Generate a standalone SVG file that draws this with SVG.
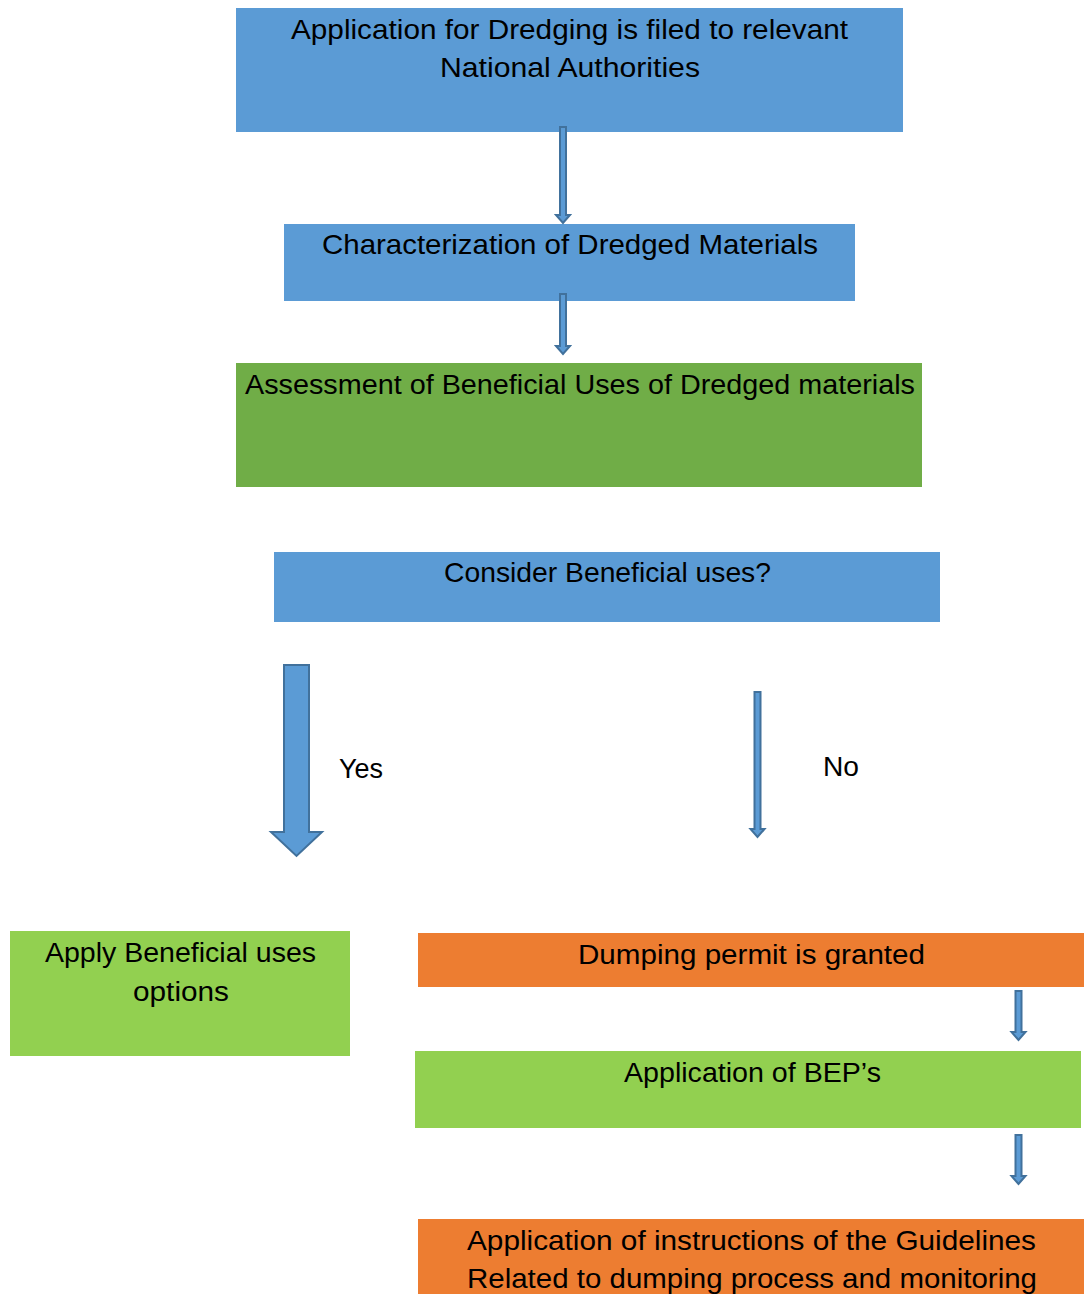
<svg xmlns="http://www.w3.org/2000/svg" width="1092" height="1294" viewBox="0 0 1092 1294">
<style>
.blue{fill:#5B9BD5}
.green{fill:#70AD47}
.lgreen{fill:#92D050}
.orange{fill:#ED7D31}
.t{font-family:"Liberation Sans",Arial,sans-serif;font-size:27.5px;fill:#000;text-anchor:middle}
.arr{fill:#5B9BD5;stroke:#41719C;stroke-width:2;stroke-linejoin:miter}
</style>
<rect width="1092" height="1294" fill="#fff"/>
<g id="n1"><rect class="blue" x="236" y="8" width="667" height="124"/>
<text class="t" x="569.5" y="39" textLength="557" lengthAdjust="spacingAndGlyphs">Application for Dredging is filed to relevant</text>
<text class="t" x="570" y="77" textLength="260" lengthAdjust="spacingAndGlyphs">National Authorities</text></g>
<g id="n2"><rect class="blue" x="284" y="224" width="571" height="77"/>
<text class="t" x="570" y="254" textLength="496" lengthAdjust="spacingAndGlyphs">Characterization of Dredged Materials</text></g>
<g id="n3"><rect class="green" x="236" y="363" width="686" height="124"/>
<text class="t" x="580" y="394" textLength="670" lengthAdjust="spacingAndGlyphs">Assessment of Beneficial Uses of Dredged materials</text></g>
<g id="n4"><rect class="blue" x="274" y="552" width="666" height="70"/>
<text class="t" x="607.5" y="582" textLength="327" lengthAdjust="spacingAndGlyphs">Consider Beneficial uses?</text></g>
<g id="n5"><rect class="lgreen" x="10" y="931" width="340" height="125"/>
<text class="t" x="180.5" y="962" textLength="271" lengthAdjust="spacingAndGlyphs">Apply Beneficial uses</text>
<text class="t" x="181" y="1001" textLength="96" lengthAdjust="spacingAndGlyphs">options</text></g>
<g id="n6"><rect class="orange" x="418" y="933" width="666" height="54"/>
<text class="t" x="751.5" y="964" textLength="347" lengthAdjust="spacingAndGlyphs">Dumping permit is granted</text></g>
<g id="n7"><rect class="lgreen" x="415" y="1051" width="666" height="77"/>
<text class="t" x="752.5" y="1082" textLength="257" lengthAdjust="spacingAndGlyphs">Application of BEP’s</text></g>
<g id="n8"><rect class="orange" x="418" y="1219" width="666" height="80"/>
<text class="t" x="751.5" y="1250" textLength="569" lengthAdjust="spacingAndGlyphs">Application of instructions of the Guidelines</text>
<text class="t" x="752" y="1288" textLength="570" lengthAdjust="spacingAndGlyphs">Related to dumping process and monitoring</text></g>
<g id="connectors">
<path class="arr" d="M560,127 H566 V215 H570 L563,223 L556,215 H560 Z"/>
<path class="arr" d="M560,294 H566 V346 H570 L563,354 L556,346 H560 Z"/>
<path class="arr" d="M284,665 H309 V832 H322 L296.5,856 L271,832 H284 Z"/>
<path class="arr" d="M754.5,692 H760.5 V829 H764.5 L757.5,837 L750.5,829 H754.5 Z"/>
<path class="arr" d="M1015.5,991 H1021.5 V1032 H1025.5 L1018.5,1040 L1011.5,1032 H1015.5 Z"/>
<path class="arr" d="M1015.5,1135 H1021.5 V1176 H1025.5 L1018.5,1184 L1011.5,1176 H1015.5 Z"/>
<text class="t" x="361" y="778" textLength="44" lengthAdjust="spacingAndGlyphs">Yes</text>
<text class="t" x="841" y="776" textLength="36" lengthAdjust="spacingAndGlyphs">No</text>
</g>
</svg>
